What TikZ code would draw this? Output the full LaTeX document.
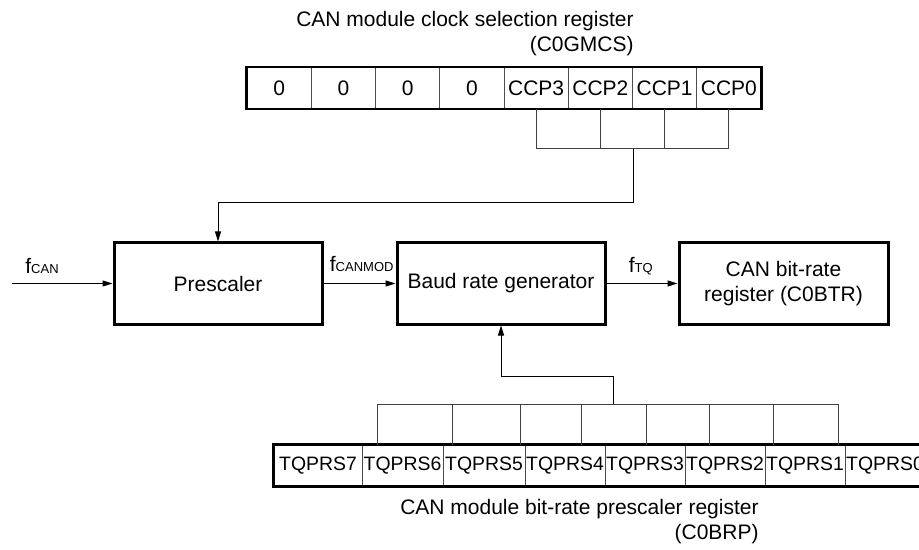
\documentclass[tikz,border=0pt]{standalone}
\usepackage{fontspec}
\setmainfont{Liberation Sans}
\usetikzlibrary{arrows.meta,positioning,calc}

\newcommand{\fsig}[1]{f{\fontsize{6.5}{7}\selectfont #1}}

\begin{document}
\begin{tikzpicture}[
  x=0.5pt, y=-0.5pt,
  font=\fontsize{10.5}{12.5}\selectfont,
  block/.style={draw, line width=1.5pt, minimum width=104pt, minimum height=40.5pt, inner sep=0pt, align=center},
  cell/.style={draw=black!70, line width=0.5pt, minimum height=20.5pt, inner sep=0pt},
  regframe/.style={line width=1.2pt},
  wire/.style={black!75, line width=0.5pt},
  arr/.style={line width=0.5pt, -{Triangle[length=5pt,width=3pt]}},
  siglab/.style={anchor=base west, inner sep=0pt},
  regtitle/.style={align=right, anchor=east, inner sep=0pt}
]
\useasboundingbox (0,0) rectangle (919,550);

% blocks
\node[block] (pre) at (218,283.5) {Prescaler};
\node[block] (brg) at (501,283.5) {Baud rate generator};
\node[block, minimum width=104.5pt] (btr) at (783.5,283.5) {CAN bit-rate\\register (C0BTR)};

% clock selection register
\foreach \t [count=\i] in {0,0,0,0,CCP3,CCP2,CCP1,CCP0}
  \node[cell, minimum width=32.125pt] (g\i) at ({247+64.25*(\i-0.5)},88) {\t};
\draw[regframe] (g1.north west) rectangle (g8.south east);
\node[regtitle] (gtit) at (634,34) {CAN module clock selection register\\(C0GMCS)};

% bit-rate prescaler register
\foreach \t/\lft/\rgt [count=\i] in {TQPRS7/274/362, TQPRS6/362/443, TQPRS5/443/525, TQPRS4/525/605,
    TQPRS3/605/685, TQPRS2/685/765, TQPRS1/765/845, TQPRS0/845/925}
  \node[cell, font=\fontsize{9.7}{11}\selectfont, minimum width={(\rgt-\lft)*0.5pt}] (q\i) at ({(\lft+\rgt)/2},465.5) {\t};
\draw[regframe] (q1.north west) rectangle (q8.south east);
\node[regtitle] (qtit) at (759,522) {CAN module bit-rate prescaler register\\(C0BRP)};

% selection bits to prescaler
\coordinate (gbus) at (0,149);
\draw[wire] (g5.south) -- (g5.south |- gbus) -- (g8.south |- gbus) -- (g8.south);
\foreach \i in {6,7} \draw[wire] (g\i.south) -- (g\i.south |- gbus);
\draw[arr] (g6.south east |- gbus) -- ++(0,54) -| (pre.north);

% prescaler bits to baud rate generator
\coordinate (qbl) at (377,404);
\coordinate (qbr) at (838,404);
\draw[wire] (qbl) -- (qbr);
\foreach \x in {377,452,520,581,646,709,773,838}
  \draw[wire] (\x,404) -- (\x,0 |- q1.north);
\coordinate (tap) at (613,404);
\draw[arr] (tap) -- ++(0,-28) -| (brg.south);

% clock path
\coordinate (fin) at (12,283.5);
\draw[arr] (fin) -- (pre.west);
\draw[arr] (pre) -- (brg);
\draw[arr] (brg) -- (btr);
\node[siglab] (lcan) at ($(fin)+(13,-9.5)$) {\fsig{CAN}};
\node[siglab] (lmod) at ($(pre.east)+(6,-12.5)$) {\fsig{CANMOD}};
\node[siglab] (ltq) at ($(brg.east)+(22,-11.5)$) {\fsig{TQ}};
\end{tikzpicture}
\end{document}
